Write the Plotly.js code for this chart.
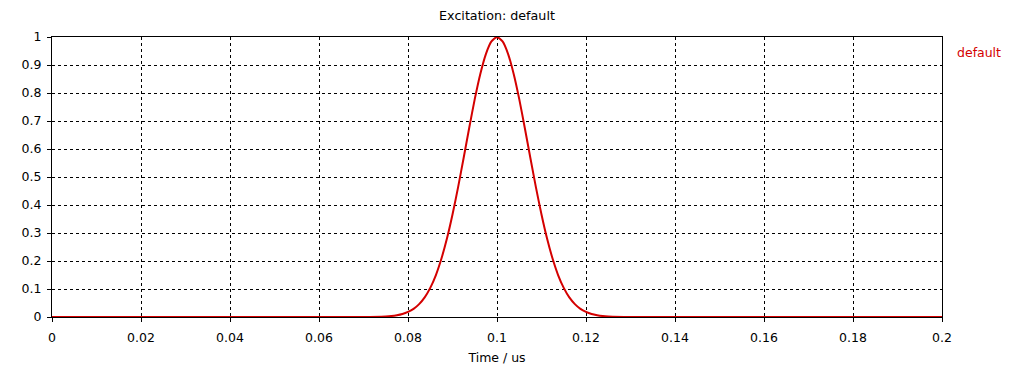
<!DOCTYPE html>
<html>
<head>
<meta charset="utf-8">
<script src="https://cdn.plot.ly/plotly-3.0.1.min.js"></script>
<style>html,body{margin:0;padding:0;background:#fff;}#chart{width:1031px;height:370px;}</style>
</head>
<body>
<div id="chart"></div>
<script>
// Time values (us)
const timeUs = [0, 0.05, 0.07, 0.075, 0.07625, 0.0775, 0.07875, 0.08, 0.08125, 0.0825, 0.08375, 0.085, 0.08625, 0.0875, 0.08875,
  0.09, 0.09125, 0.0925, 0.09375, 0.095, 0.09625, 0.0975, 0.09875, 0.1,
  0.10125, 0.1025, 0.10375, 0.105, 0.10625, 0.1075, 0.10875, 0.11, 0.11125, 0.1125, 0.11375, 0.115, 0.11625, 0.1175,
  0.11875, 0.12, 0.12125, 0.1225, 0.12375, 0.125, 0.13, 0.15, 0.2];
// Excitation amplitude
const amplitude = [0, 0, 0, 0.002, 0.0034, 0.0062, 0.0106, 0.018, 0.029, 0.046, 0.070, 0.104, 0.149, 0.208, 0.280,
  0.366, 0.463, 0.568, 0.675, 0.778, 0.868, 0.939, 0.984, 1.0,
  0.984, 0.939, 0.868, 0.778, 0.675, 0.568, 0.463, 0.366, 0.280, 0.208, 0.149, 0.104, 0.070, 0.046,
  0.029, 0.018, 0.0106, 0.0062, 0.0034, 0.002, 0, 0, 0];
const seriesName = "default";
const xTicks = [0, 0.02, 0.04, 0.06, 0.08, 0.1, 0.12, 0.14, 0.16, 0.18, 0.2];
const xTickText = ["0", "0.02", "0.04", "0.06", "0.08", "0.1", "0.12", "0.14", "0.16", "0.18", "0.2"];
const yTicks = [0, 0.1, 0.2, 0.3, 0.4, 0.5, 0.6, 0.7, 0.8, 0.9, 1];
const yTickText = ["0", "0.1", "0.2", "0.3", "0.4", "0.5", "0.6", "0.7", "0.8", "0.9", "1"];

const red = "#d40000";
const font = {family: "DejaVu Sans, Verdana, sans-serif", size: 12.5, color: "#000"};

const trace = {
  x: timeUs, y: amplitude, type: "scatter", mode: "lines", name: seriesName,
  line: {color: red, width: 2, shape: "spline", smoothing: 0.6},
  cliponaxis: false
};

const axisCommon = {
  showline: true, linecolor: "#000", linewidth: 1, mirror: true,
  showgrid: true, gridcolor: "#000", gridwidth: 1, griddash: "3px,3px",
  ticks: "outside", ticklen: 4, tickcolor: "#000", tickwidth: 1,
  zeroline: false, tickfont: font, tickmode: "array", fixedrange: true
};

const layout = {
  width: 1031, height: 370,
  margin: {l: 52, r: 89, t: 37, b: 53},
  paper_bgcolor: "#fff", plot_bgcolor: "#fff",
  showlegend: false,
  font: font,
  title: {text: "Excitation: default", font: {family: font.family, size: 12.7, color: "#000"},
    x: 0.5, xref: "paper", xanchor: "center", y: 1, yref: "container", yanchor: "top", pad: {t: 11}},
  xaxis: Object.assign({}, axisCommon, {
    range: [0, 0.2], tickvals: xTicks, ticktext: xTickText, ticklabelstandoff: 5,
    title: {text: "Time / us", font: font, standoff: 9}
  }),
  yaxis: Object.assign({}, axisCommon, {
    range: [0, 1], tickvals: yTicks, ticktext: yTickText, ticklabelstandoff: 3
  }),
  annotations: [{
    text: seriesName, xref: "paper", yref: "paper", x: 1.015, y: 0.945,
    xanchor: "left", yanchor: "middle", showarrow: false,
    font: {family: font.family, size: 12.5, color: red}
  }]
};

Plotly.newPlot("chart", [trace], layout, {displayModeBar: false, staticPlot: true});
</script>
</body>
</html>
